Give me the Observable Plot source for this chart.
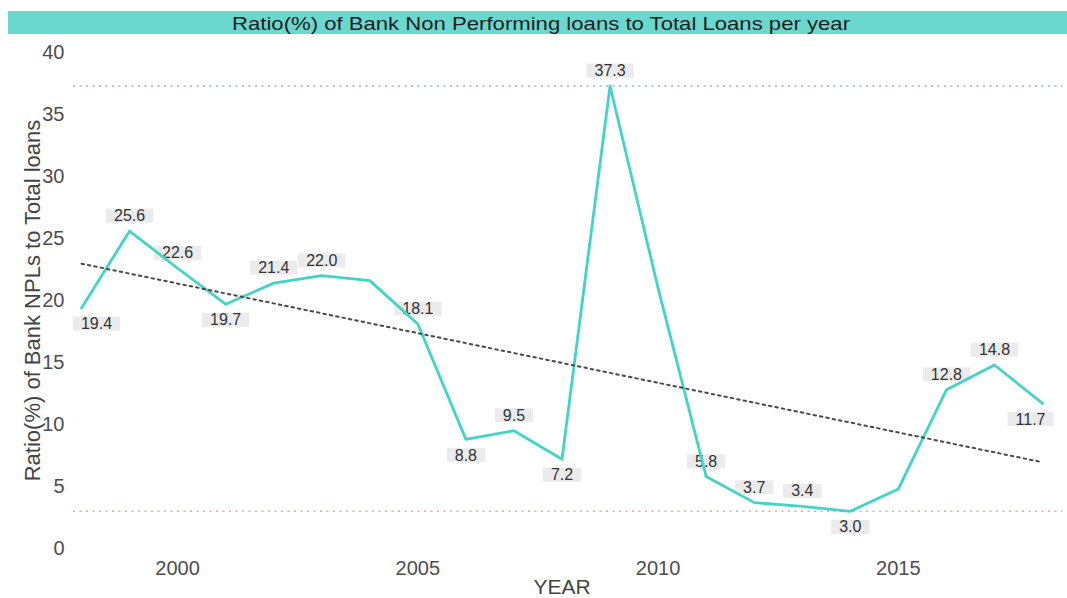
<!DOCTYPE html>
<html>
<head>
<meta charset="utf-8">
<script src="https://cdn.jsdelivr.net/npm/d3@7"></script>
<script src="https://cdn.jsdelivr.net/npm/@observablehq/plot@0.6"></script>
<style>
  html, body { margin: 0; padding: 0; background: #fff; }
  body { width: 1067px; height: 598px; overflow: hidden; font-family: "Liberation Sans", Arial, sans-serif; }
  #head { height: 38px; position: relative; }
  #band { position: absolute; left: 8px; top: 11px; width: 1059px; height: 23px; background: #6ad8cf; }
  #band svg { display: block; }
</style>
</head>
<body>
<div id="head"><div id="band"></div></div>
<div id="chart"></div>
<script>
const titleText = "Ratio(%) of Bank Non Performing loans to Total Loans per year";
const xTitle = "YEAR";
const yTitle = "Ratio(%) of Bank NPLs to Total loans";

const years = [1998, 1999, 2000, 2001, 2002, 2003, 2004, 2005, 2006, 2007, 2008,
               2009, 2010, 2011, 2012, 2013, 2014, 2015, 2016, 2017, 2018];
const npl   = [19.4, 25.6, 22.6, 19.7, 21.4, 22.0, 21.6, 18.1, 8.8, 9.5, 7.2,
               37.3, 21.0, 5.8, 3.7, 3.4, 3.0, 4.8, 12.8, 14.8, 11.7];
const labeledYears = [1998, 1999, 2000, 2001, 2002, 2003, 2005, 2006, 2007, 2008,
                      2009, 2011, 2012, 2013, 2014, 2016, 2017, 2018];
const xTicks = [2000, 2005, 2010, 2015];
const yTicks = [0, 5, 10, 15, 20, 25, 30, 35, 40];

const data = years.map((year, i) => ({year, value: npl[i]}));
const maxV = d3.max(npl), minV = d3.min(npl);

// label below a point when it is a local low, otherwise above
data.forEach((d, i) => {
  const prev = data[i - 1], next = data[i + 1];
  const lowerThanPrev = !prev || d.value < prev.value;
  const lowerThanNext = !next || d.value < next.value;
  d.below = lowerThanPrev && lowerThanNext;
  d.label = d.value.toFixed(1);
});
const labeled = data.filter(d => labeledYears.includes(d.year));
const firstYear = years[0], lastYear = years[years.length - 1];
const midAbove = labeled.filter(d => !d.below && d.year !== firstYear && d.year !== lastYear);
const midBelow = labeled.filter(d => d.below && d.year !== firstYear && d.year !== lastYear);
const firstL = labeled.filter(d => d.year === firstYear);
const lastL = labeled.filter(d => d.year === lastYear);

// title band
const band = d3.select("#band").append("svg").attr("width", 1059).attr("height", 23);
band.append("text").attr("x", 533).attr("y", 12).attr("text-anchor", "middle")
  .attr("dominant-baseline", "central")
  .attr("font-family", "Liberation Sans, Arial, sans-serif")
  .attr("font-size", 19).attr("fill", "#1e1e1e")
  .attr("textLength", 618).attr("lengthAdjust", "spacingAndGlyphs")
  .text(titleText);

const labelFont = 16;
const textOpts = {x: "year", y: "value", text: "label", fill: "#333", fontSize: labelFont};

const chart = Plot.plot({
  width: 1067,
  height: 560,
  marginLeft: 81,
  marginRight: 25,
  marginTop: 14,
  marginBottom: 50,
  style: {fontFamily: "Liberation Sans, Arial, sans-serif", background: "#fff", color: "#4d4d4d"},
  x: {domain: [firstYear, lastYear], ticks: xTicks, tickFormat: "d", tickSize: 0, tickPadding: 12, label: null},
  y: {domain: [0, 40], ticks: yTicks, tickSize: 0, tickPadding: 17, label: null},
  marks: [
    Plot.axisX({ticks: xTicks, tickFormat: "d", tickSize: 0, tickPadding: 12, fontSize: 20, label: null}),
    Plot.axisY({ticks: yTicks, tickSize: 0, tickPadding: 17, fontSize: 20, label: null}),
    Plot.ruleY([maxV], {stroke: "#9fb3b3", strokeWidth: 1.6, strokeDasharray: "2,4.5", insetLeft: -8, insetRight: -20}),
    Plot.ruleY([minV], {stroke: "#f2a3a3", strokeWidth: 1.6, strokeDasharray: "2,4.5", insetLeft: -8, insetRight: -20}),
    Plot.text(midAbove, {...textOpts, dy: -15}),
    Plot.text(midBelow, {...textOpts, dy: 16}),
    Plot.text(firstL, {...textOpts, dy: 16, dx: 15}),
    Plot.text(lastL, {...textOpts, dy: 16, dx: -12}),
    Plot.lineY(data, {x: "year", y: "value", stroke: "#41d5c7", strokeWidth: 2.8}),
    Plot.linearRegressionY(data, {x: "year", y: "value", ci: 0, stroke: "#4a4a4a", strokeWidth: 2, strokeDasharray: "2.5,4"}),
    Plot.text([xTitle], {frameAnchor: "bottom", text: d => d, dy: 39, lineAnchor: "middle", textAnchor: "middle", fontSize: 21, fill: "#444"}),
    Plot.text([yTitle], {frameAnchor: "left", text: d => d, rotate: -90, dx: -49, lineAnchor: "middle", textAnchor: "middle", fontSize: 22, fill: "#444"})
  ]
});
document.getElementById("chart").appendChild(chart);

// grey boxes behind value labels
d3.select(chart).selectAll("g[aria-label='text'] text").each(function() {
  const t = this.textContent;
  if (!/^\d+\.\d$/.test(t)) return;
  const bb = this.getBBox();
  const padX = 8;
  const r = document.createElementNS("http://www.w3.org/2000/svg", "rect");
  r.setAttribute("x", bb.x - padX);
  r.setAttribute("y", bb.y + 1.5);
  r.setAttribute("width", bb.width + 2 * padX);
  r.setAttribute("height", bb.height - 3);
  r.setAttribute("fill", "#ebebeb");
  const tr = this.getAttribute("transform");
  if (tr) r.setAttribute("transform", tr);
  this.parentNode.insertBefore(r, this);
});
</script>
</body>
</html>
